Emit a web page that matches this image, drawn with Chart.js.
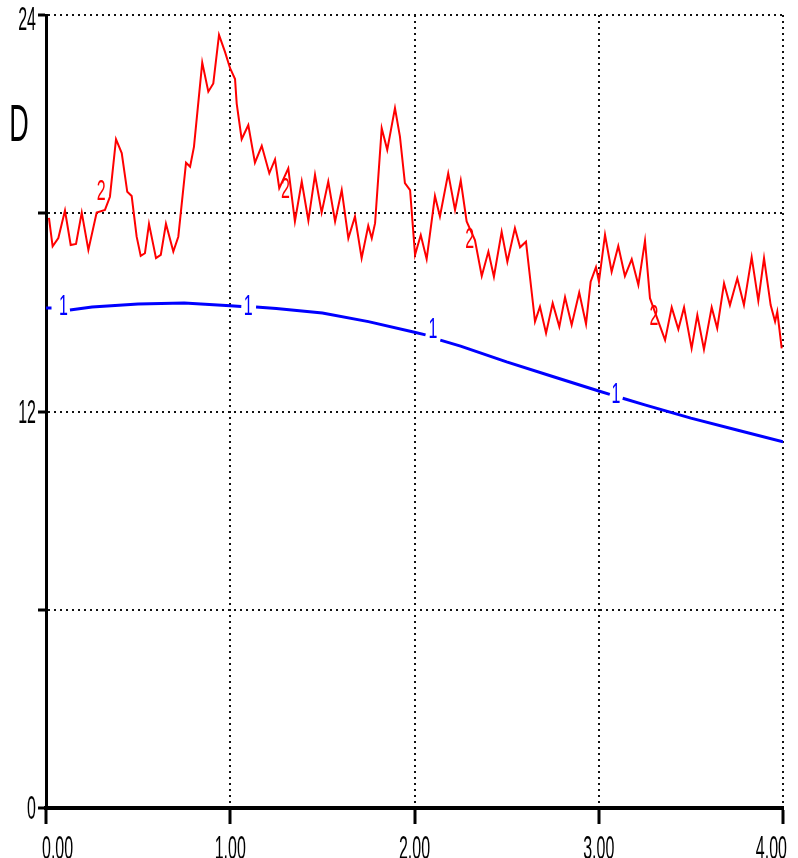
<!DOCTYPE html>
<html>
<head>
<meta charset="utf-8">
<script src="https://cdn.jsdelivr.net/npm/chart.js@4/dist/chart.umd.min.js"></script>
<style>
	body { margin: 0; background: #fff; }
	canvas { display: block; }
</style>
</head>
<body>
<canvas id="dChart" width="798" height="858"></canvas>
<script>
// series 2 (red, noisy)
var redX = [0.016,0.036,0.067,0.103,0.134,0.163,0.194,0.230,0.275,0.320,0.347,0.380,0.411,0.441,0.465,0.492,0.514,0.537,0.559,0.597,
	0.623,0.651,0.691,0.718,0.760,0.782,0.803,0.848,0.881,0.908,0.939,0.971,0.999,1.026,1.035,1.062,1.098,1.134,1.171,1.212,
	1.243,1.266,1.315,1.351,1.388,1.424,1.460,1.496,1.532,1.569,1.605,1.641,1.677,1.713,1.749,1.768,1.786,1.822,1.852,1.894,
	1.921,1.948,1.976,2.003,2.034,2.066,2.111,2.138,2.183,2.220,2.251,2.283,2.328,2.365,2.401,2.431,2.473,2.504,2.545,2.573,
	2.605,2.645,2.654,2.681,2.714,2.750,2.786,2.817,2.853,2.894,2.931,2.956,2.985,3.001,3.034,3.070,3.106,3.142,3.179,3.215,
	3.251,3.278,3.332,3.360,3.396,3.432,3.463,3.504,3.535,3.571,3.613,3.643,3.680,3.712,3.752,3.788,3.830,3.866,3.897,3.933,
	3.957,3.969,3.993];
var redY = [17.86,17.00,17.25,18.08,17.04,17.07,18.02,16.89,18.02,18.10,18.50,20.24,19.82,18.65,18.52,17.29,16.71,16.79,17.68,16.64,
	16.74,17.68,16.84,17.29,19.53,19.41,20.01,22.56,21.68,21.93,23.40,22.89,22.39,22.06,21.32,20.24,20.67,19.53,20.04,19.21,
	19.63,18.76,19.36,17.75,18.96,17.78,19.16,18.02,18.96,17.75,18.70,17.24,17.90,16.64,17.62,17.24,17.70,20.57,19.92,21.18,
	20.32,18.91,18.70,16.74,17.34,16.61,18.52,17.90,19.21,18.10,18.99,17.75,17.19,16.10,16.84,16.08,17.44,16.53,17.55,16.97,
	17.14,15.17,14.72,15.17,14.37,15.28,14.57,15.46,14.62,15.60,14.65,15.93,16.37,15.93,17.35,16.23,17.01,16.10,16.61,15.83,
	17.17,15.43,14.59,14.16,15.15,14.49,15.15,13.91,14.92,13.88,15.15,14.52,15.88,15.22,16.03,15.22,16.67,15.35,16.64,15.22,
	14.72,15.02,13.91];

// series 1 (blue, smooth) - nulls are where the "1" labels break the line
var blueX = [0, 0.03, 0.08, 0.13, 0.25, 0.5, 0.75, 1.0, 1.06, 1.10, 1.14, 1.25, 1.5, 1.75, 2.0, 2.06, 2.10, 2.14, 2.25, 2.5,
	2.75, 3.0, 3.06, 3.10, 3.13, 3.25, 3.5, 3.75, 4.0];
var blueY = [15.13, 15.13, null, 15.07, 15.16, 15.25, 15.28, 15.20, 15.18, null, 15.16, 15.12, 14.98, 14.72, 14.40, 14.32, null, 14.16, 13.98, 13.50,
	13.06, 12.62, 12.52, null, 12.40, 12.20, 11.80, 11.44, 11.08];

// line number labels
var blueLabelX = [0.095, 1.097, 2.10, 3.094];
var blueLabelY = [15.17, 15.17, 14.47, 12.52];
var redLabelX = [0.30, 1.30, 2.30, 3.30];
var redLabelY = [18.65, 18.70, 17.19, 14.87];

// axes
var xTicks = [0, 1, 2, 3, 4];
var yTicks = [0, 6, 12, 18, 24];
var yLabelled = [0, 12, 24];
var yTitle = 'D';

var FONT = '"Liberation Sans", Arial, sans-serif';

function toPoints(xs, ys) {
	return xs.map(function (x, i) { return { x: x, y: ys[i] }; });
}

// tall, narrow text like the original plotter output
function tallText(ctx, txt, x, y, size, sx, sy) {
	ctx.save();
	ctx.font = size + 'px ' + FONT;
	ctx.translate(x, y);
	ctx.scale(sx, sy);
	ctx.fillText(txt, 0, 0);
	ctx.restore();
}

var textLayer = {
	id: 'textLayer',
	afterDraw: function (chart) {
		var ctx = chart.ctx, xs = chart.scales.x, ys = chart.scales.y;
		var sets = [[blueLabelX, blueLabelY, '1', '#0000ff'], [redLabelX, redLabelY, '2', '#ff0000']];
		ctx.save();

		// line numbers
		ctx.textAlign = 'center';
		ctx.textBaseline = 'middle';
		sets.forEach(function (s) {
			ctx.fillStyle = s[3];
			for (var i = 0; i < s[0].length; i++) {
				tallText(ctx, s[2], xs.getPixelForValue(s[0][i]), ys.getPixelForValue(s[1][i]), 20, 0.8, 1.5);
			}
		});

		ctx.fillStyle = '#000';
		// x tick labels
		ctx.textBaseline = 'alphabetic';
		xTicks.forEach(function (v, i) {
			var px = xs.getPixelForValue(v);
			if (i === 0) { ctx.textAlign = 'left'; px -= 4; }
			else if (i === xTicks.length - 1) { ctx.textAlign = 'right'; px += 4; }
			else { ctx.textAlign = 'center'; }
			tallText(ctx, v.toFixed(2), px, 859, 20, 0.8, 1.65);
		});

		// y tick labels
		ctx.textAlign = 'right';
		ctx.textBaseline = 'middle';
		yLabelled.forEach(function (v) {
			var py = Math.max(ys.getPixelForValue(v) + 2, 21);
			tallText(ctx, String(v), 36, py, 20, 0.8, 1.65);
		});

		// axis title
		ctx.textAlign = 'center';
		tallText(ctx, yTitle, 19, 127, 36, 0.75, 1.45);
		ctx.restore();
	}
};

function renderChart() {
	var ctx = document.getElementById('dChart').getContext('2d');
	var chart = new Chart(ctx, {
		type: 'line',
		data: {
			datasets: [{
				label: '1',
				data: toPoints(blueX, blueY),
				borderColor: '#0000ff',
				borderWidth: 3,
				spanGaps: false
			}, {
				label: '2',
				data: toPoints(redX, redY),
				borderColor: '#ff0000',
				borderWidth: 2
			}]
		},
		options: {
			responsive: false,
			animation: false,
			layout: { autoPadding: false, padding: { top: 15, right: 15, left: 0, bottom: 0 } },
			elements: { point: { radius: 0 }, line: { tension: 0 } },
			plugins: { legend: { display: false }, tooltip: { enabled: false } },
			scales: {
				x: {
					type: 'linear', min: 0, max: 4,
					afterFit: function (s) { s.height = 50; },
					afterBuildTicks: function (s) { s.ticks = xTicks.map(function (v) { return { value: v }; }); },
					ticks: { display: false },
					grid: { color: '#111', lineWidth: 2, tickLength: 16, tickWidth: 3, tickColor: '#000' },
					border: { color: '#000', width: 4, dash: [2, 4] }
				},
				y: {
					min: 0, max: 24,
					afterFit: function (s) { s.width = 46; },
					afterBuildTicks: function (s) { s.ticks = yTicks.map(function (v) { return { value: v }; }); },
					ticks: { display: false },
					grid: { color: '#111', lineWidth: 2, tickLength: 8, tickWidth: 3, tickColor: '#000' },
					border: { color: '#000', width: 3, dash: [2, 4] }
				}
			}
		},
		plugins: [textLayer]
	});
}

renderChart();
</script>
</body>
</html>
